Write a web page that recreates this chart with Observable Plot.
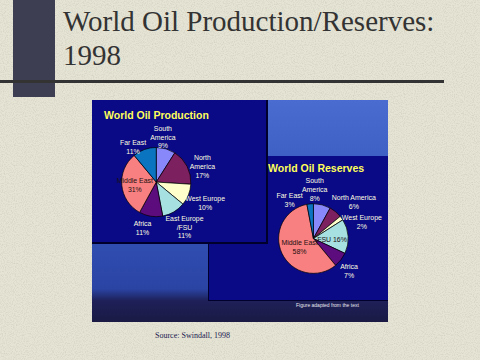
<!DOCTYPE html>
<html>
<head>
<meta charset="utf-8">
<script src="https://cdn.jsdelivr.net/npm/d3@7"></script>
<script src="https://cdn.jsdelivr.net/npm/@observablehq/plot@0.6"></script>
<style>
  html, body { margin: 0; padding: 0; }
  body { width: 480px; height: 360px; overflow: hidden; position: relative;
         background-color: #e6e4d5;
         background-image: url("data:image/svg+xml;utf8,<svg xmlns='http://www.w3.org/2000/svg' width='480' height='360'><filter id='n'><feTurbulence type='fractalNoise' baseFrequency='0.9' numOctaves='2' seed='3'/><feColorMatrix type='matrix' values='0 0 0 0 0.55  0 0 0 0 0.54  0 0 0 0 0.45  0 0 0 1.1 -0.45'/></filter><rect width='480' height='360' filter='url(%23n)'/></svg>");
         font-family: "Liberation Sans", Arial, sans-serif; }
  #bar { position: absolute; left: 13px; top: 0; width: 42px; height: 97px; background: #3d3e52; }
  #rule { position: absolute; left: 0; top: 80px; width: 444px; height: 3px; background: #333; }
  #title { position: absolute; left: 63px; top: 4px; font: 29px/34px "Liberation Serif", "Times New Roman", serif;
           color: #333; white-space: nowrap; }
  #picture { position: absolute; left: 92px; top: 100px; width: 296px; height: 222px;
             background: linear-gradient(to bottom, #4a6cd0 0%, #3556bc 45%, #2a44a4 85%, #1e2058 90.5%, #1a1a44 100%); }
  .panel { position: absolute; background: #0a0a86; box-sizing: border-box; }
  #prod { left: 0; top: 0; width: 176px; height: 144px; border-right: 2px solid #00002c; border-bottom: 2px solid #00002c; }
  #resv { left: 116px; top: 56px; width: 180px; height: 145px; border-left: 1px solid #00002c; border-bottom: 1px solid #00002c; }
  .ptitle { position: absolute; font: bold 10.5px/12px "Liberation Sans", Arial, sans-serif; color: #ffff5a; white-space: nowrap; }
  .panel svg { position: absolute; left: 0; top: 0; overflow: visible; }
  #note { position: absolute; left: 204px; top: 202px; font: 5px/6px "Liberation Sans", Arial, sans-serif; color: #e8e8f0; white-space: nowrap; }
  #source { position: absolute; left: 155px; top: 331px; font: 8px/10px "Liberation Serif", "Times New Roman", serif; color: #1a1a50; white-space: nowrap; }
</style>
</head>
<body>
<div id="bar"></div>
<div id="rule"></div>
<div id="title">World Oil Production/Reserves:<br>1998</div>
<div id="picture">
  <div class="panel" id="resv"><div class="ptitle" style="left:59px;top:6px">World Oil Reserves</div></div>
  <div class="panel" id="prod"><div class="ptitle" style="left:12px;top:9px">World Oil Production</div></div>
  <div id="note">Figure adapted from the text</div>
</div>
<div id="source">Source: Swindall, 1998</div>
<script>
// ---- data ----
const regions = ["South America", "North America", "West Europe", "East Europe/FSU", "Africa", "Middle East", "Far East"];
const productionShare = [9, 17, 10, 11, 11, 31, 11];
const reservesShare = [8, 6, 2, 16, 7, 58, 3];
const productionNames = ["South\nAmerica", "North\nAmerica", "West Europe", "East Europe\n/FSU", "Africa", "Middle East", "Far East"];
const reservesNames = ["South\nAmerica", "North America", "West Europe", "FSU", "Africa", "Middle East", "Far East"];
const regionColors = ["#8888fa", "#7c2060", "#ffffcc", "#a6e0e0", "#5c0c7c", "#f88080", "#0a74c0"];

// ---- layout (label placement: radius factor, pixel nudge, dark text, one line) ----
const prodLayout = {
  w: 176, h: 144, cx: 65, cy: 83, r: 35,
  labels: [[1.35, -7, -1], [1.35, 4, 5], [1.35, 5, 3], [1.35, 4, 4], [1.35, -7, -1], [0.55, -3, 0, true], [1.35, -8, 8]]
};
const resvLayout = {
  w: 180, h: 145, cx: 105, cy: 83, r: 35,
  labels: [[1.35, -11, -4], [1.35, 10, -1], [1.35, 10, 10], [0.55, -1, 1, true, true], [1.35, -2, 3], [0.55, 3, -1, true], [1.35, -20, 7]]
};

const color = Plot.scale({color: {type: "ordinal", domain: regions, range: regionColors}});

function pieChart(values, names, L) {
  const table = regions.map((region, i) => ({region, value: values[i], name: names[i]}));
  const arcs = d3.pie().sort(null).value(d => d.value)(table);
  const labels = arcs.map((a, i) => {
    const [k, dx, dy, dark, oneLine] = L.labels[i];
    const mid = (a.startAngle + a.endAngle) / 2;
    return {
      x: k * Math.sin(mid) + dx / L.r,
      y: -k * Math.cos(mid) + dy / L.r,
      text: a.data.name + (oneLine ? " " : "\n") + a.data.value + "%",
      dark: !!dark
    };
  });
  const pieMark = (index, scales) => {
    const px = scales.x(0), py = scales.y(0);
    const pr = scales.x(1) - scales.x(0);
    const g = d3.create("svg:g").attr("transform", `translate(${px},${py})`);
    g.selectAll("path").data(arcs).join("path")
      .attr("d", d3.arc().innerRadius(0).outerRadius(pr))
      .attr("fill", d => color.apply(d.data.region))
      .attr("stroke", "#000")
      .attr("stroke-width", 0.7)
      .attr("stroke-linejoin", "round");
    return g.node();
  };
  return Plot.plot({
    width: L.w, height: L.h,
    marginTop: 0, marginRight: 0, marginBottom: 0, marginLeft: 0,
    x: {domain: [-1, 1], range: [L.cx - L.r, L.cx + L.r], axis: null},
    y: {domain: [-1, 1], range: [L.cy - L.r, L.cy + L.r], axis: null},
    style: {background: "transparent", fontFamily: "'Liberation Sans', Arial, sans-serif", overflow: "visible"},
    marks: [
      pieMark,
      Plot.text(labels.filter(d => !d.dark), {x: "x", y: "y", text: "text", fill: "#ffffe0",
        fontSize: 7, lineHeight: 1.29, textAnchor: "middle", lineAnchor: "middle"}),
      Plot.text(labels.filter(d => d.dark), {x: "x", y: "y", text: "text", fill: "#1a1010",
        fontSize: 7, lineHeight: 1.29, textAnchor: "middle", lineAnchor: "middle"})
    ]
  });
}

document.getElementById("prod").appendChild(pieChart(productionShare, productionNames, prodLayout));
document.getElementById("resv").appendChild(pieChart(reservesShare, reservesNames, resvLayout));
</script>
</body>
</html>
